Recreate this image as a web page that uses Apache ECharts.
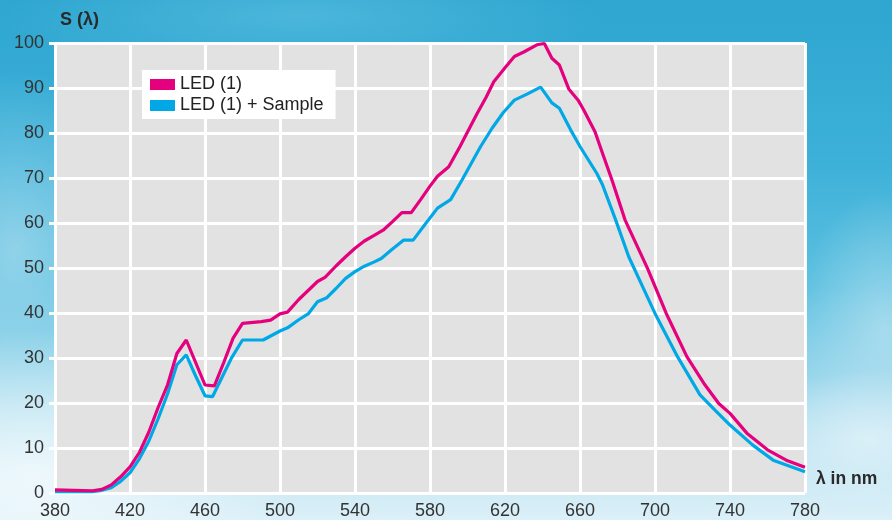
<!DOCTYPE html>
<html>
<head>
<meta charset="utf-8">
<script src="https://cdn.jsdelivr.net/npm/echarts@6/dist/echarts.min.js"></script>
<style>
html,body{margin:0;padding:0;width:892px;height:520px;overflow:hidden;}
body{
  background:
    radial-gradient(ellipse 120px 70px at 870px 440px, rgba(225,242,249,0.85), rgba(225,242,249,0) 100%),
    radial-gradient(ellipse 90px 140px at 885px 330px, rgba(190,228,242,0.65), rgba(190,228,242,0) 100%),
    radial-gradient(ellipse 260px 150px at 30px 480px, rgba(240,249,252,0.95), rgba(240,249,252,0) 100%),
    radial-gradient(ellipse 130px 180px at 15px 250px, rgba(170,220,238,0.7), rgba(170,220,238,0) 100%),
    radial-gradient(ellipse 300px 60px at 300px 15px, rgba(110,200,230,0.45), rgba(110,200,230,0) 100%),
    linear-gradient(to bottom, #2ea6d0 0%, #3cb0d8 30%, #5cc0e0 55%, #a9dcee 78%, #dcf0f8 100%);
}
#chart{width:892px;height:520px;}
</style>
</head>
<body>
<div id="chart"></div>
<script>
// LED (1)
const ledWavelengths = [380,390,400,405,410,415,420,425,430,435,440,445,450,455,460,465,470,475,480,490,495,500,504,510,515,520,524,530,535,540,545,550,555,560,565,570,575,580,584,590,596,600,605,610,614,620,625,630,637,641,645,649,654,659,662,668,672,677,684,690,696,706,717,726,734,740,749,760,770,780];
const ledValues = [0.7,0.6,0.5,0.8,1.8,3.6,5.8,9.0,13.5,19.0,24.0,31.0,34.0,29.0,24.0,23.8,29.0,34.4,37.7,38.1,38.4,39.8,40.2,43.0,45.0,47.0,47.9,50.5,52.5,54.4,56.0,57.2,58.4,60.3,62.3,62.3,65.2,68.2,70.4,72.5,77.0,80.2,84.2,88.0,91.4,94.5,97.0,98.0,99.6,99.9,96.6,95.1,89.8,87.3,85.1,80.3,75.5,69.6,60.7,55.3,49.9,39.9,30.3,24.4,19.9,17.7,13.3,9.6,7.3,5.7];
// LED (1) + Sample
const sampleWavelengths = [380,390,400,405,410,415,420,425,430,435,440,445,450,455,460,464,470,474,480,491,500,504,510,515,520,525,530,535,540,545,550,554,560,566,571,577,584,591,597,603,607,613,619,625,632,639,645,649,655,660,669,672,679,686,694,700,712,724,732,740,752,763,780];
const sampleValues = [0.3,0.3,0.3,0.6,1.2,2.6,4.5,7.6,11.5,16.5,22.0,28.5,30.7,26.0,21.6,21.4,26.5,29.9,34.0,34.0,36.0,36.7,38.5,39.8,42.5,43.4,45.5,47.7,49.2,50.4,51.3,52.1,54.2,56.2,56.2,59.5,63.3,65.2,69.5,74.0,77.0,81.0,84.5,87.3,88.7,90.2,86.7,85.5,80.7,77.0,71.0,68.5,60.7,52.5,45.3,39.9,30.3,21.8,18.4,15.1,10.7,7.3,4.7];
const seriesNames = ['LED (1)', 'LED (1) + Sample'];
const yAxisTitle = 'S (λ)';
const xAxisTitle = 'λ in nm';

const pair = (xs, ys) => xs.map((x, i) => [x, ys[i]]);
const FONT = '"Liberation Sans", Arial, sans-serif';

const chart = echarts.init(document.getElementById('chart'), null, {renderer: 'canvas'});
chart.setOption({
  backgroundColor: 'transparent',
  animation: false,
  grid: {
    left: 55, right: 87, top: 43, bottom: 27,
    show: true, backgroundColor: '#e2e2e2', borderWidth: 0
  },
  legend: {
    data: seriesNames,
    orient: 'vertical',
    left: 142, top: 70,
    backgroundColor: '#ffffff',
    padding: [5, 12, 4, 8],
    itemWidth: 25, itemHeight: 11, itemGap: 2,
    icon: 'rect',
    textStyle: {fontFamily: FONT, fontSize: 18, color: '#222', lineHeight: 19}
  },
  graphic: [
    {type: 'text', left: 60, top: 11, style: {text: yAxisTitle, font: 'bold 18px ' + FONT, fill: '#2a2a2a'}},
    {type: 'text', left: 816, top: 470, style: {text: xAxisTitle, font: 'bold 17.5px ' + FONT, fill: '#2a2a2a'}}
  ],
  xAxis: {
    type: 'value', min: 380, max: 780, interval: 40,
    axisLine: {show: false},
    axisTick: {show: false},
    axisLabel: {color: '#333', fontSize: 18, fontFamily: FONT, margin: 9},
    splitLine: {show: true, lineStyle: {color: '#ffffff', width: 3}}
  },
  yAxis: {
    type: 'value', min: 0, max: 100, interval: 10,
    axisLine: {show: false},
    axisTick: {show: true, length: 6, lineStyle: {color: '#ffffff', width: 3}},
    axisLabel: {color: '#333', fontSize: 18, fontFamily: FONT, margin: 11},
    splitLine: {show: true, lineStyle: {color: '#ffffff', width: 3}}
  },
  series: [
    {
      name: seriesNames[1], type: 'line', data: pair(sampleWavelengths, sampleValues),
      showSymbol: false, color: '#00a8e6',
      lineStyle: {width: 3.2, color: '#00a8e6'}, z: 3
    },
    {
      name: seriesNames[0], type: 'line', data: pair(ledWavelengths, ledValues),
      showSymbol: false, color: '#e5007d',
      lineStyle: {width: 3.2, color: '#e5007d'}, z: 4
    }
  ]
});
</script>
</body>
</html>
